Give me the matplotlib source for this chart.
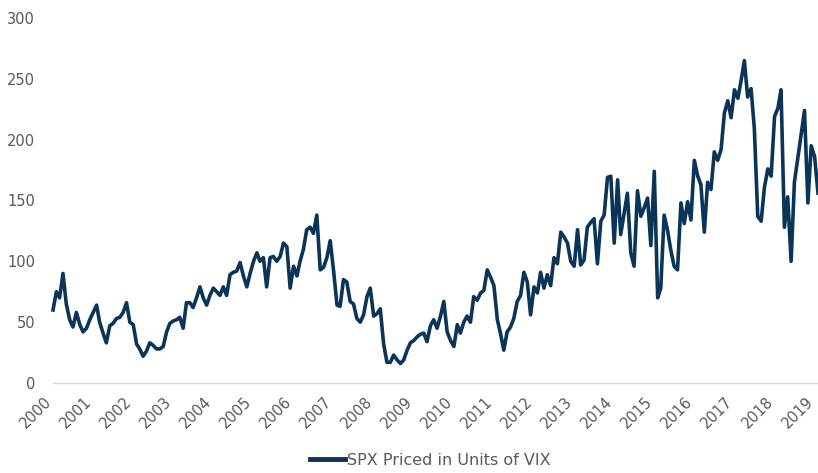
import pandas as pd
import matplotlib.pyplot as plt
from matplotlib.transforms import ScaledTranslation

# monthly SPX / VIX ratio (Jan 2000 .. Feb 2019)
start = '2000-01-01'
spx_vix = [
    60, 75, 70, 90, 65, 52, 46, 58, 48, 42, 45, 52,        # 2000
    58, 64, 50, 41, 33, 47, 49, 53, 54, 58, 66, 50,        # 2001
    48, 32, 28, 22, 26, 33, 31, 28, 28, 30, 42, 49,        # 2002
    51, 52, 54, 45, 66, 66, 62, 70, 79, 70, 64, 72,        # 2003
    78, 75, 72, 79, 72, 89, 91, 92, 99, 88, 79, 90,        # 2004
    100, 107, 100, 103, 79, 103, 104, 100, 104, 115, 112, 78,  # 2005
    96, 88, 100, 110, 126, 128, 123, 138, 93, 95, 103, 117,    # 2006
    92, 64, 63, 85, 83, 67, 65, 53, 50, 56, 71, 78,        # 2007
    55, 57, 61, 32, 17, 17, 23, 19, 16, 19, 27, 33,        # 2008
    35, 38, 40, 41, 34, 47, 52, 45, 55, 67, 42, 35,        # 2009
    30, 48, 41, 50, 55, 50, 71, 68, 74, 76, 93, 87,        # 2010
    80, 52, 41, 27, 42, 46, 53, 67, 72, 91, 83, 56,        # 2011
    79, 74, 91, 78, 89, 80, 103, 98, 124, 120, 115, 100,   # 2012
    96, 126, 97, 101, 128, 132, 135, 98, 133, 138, 169, 170,   # 2013
    115, 167, 122, 139, 156, 107, 96, 158, 137, 144, 152, 113,  # 2014
    174, 70, 78, 138, 126, 109, 96, 93, 148, 131, 149, 134,    # 2015
    183, 170, 163, 124, 165, 159, 190, 183, 192, 222, 232, 218,  # 2016
    241, 234, 248, 265, 235, 242, 209, 137, 133, 161, 176, 170,  # 2017
    219, 226, 241, 128, 153, 100, 165, 185, 205, 224, 148, 195,  # 2018
    186, 156,                                              # 2019
]
years = list(range(2000, 2020))
y_ticks = [0, 50, 100, 150, 200, 250, 300]
series_name = 'SPX Priced in Units of VIX'

dates = pd.date_range(start, periods=len(spx_vix), freq='MS')
df = pd.DataFrame({'date': dates, 'ratio': spx_vix})

navy = '#0b3558'
grey_txt = '#595959'

fig = plt.figure(figsize=(8.18, 4.73), dpi=100)
ax = fig.add_axes([53 / 818, 1 - 383 / 473, 1 - 53 / 818, (383 - 18) / 473])

ax.plot(df['date'], df['ratio'], color=navy, lw=2.6, solid_joinstyle='round',
        label=series_name, clip_on=False)

ax.set_xlim(df['date'].iloc[0], df['date'].iloc[-1])
ax.set_ylim(0, 300)
ax.set_yticks(y_ticks)
ax.set_xticks([pd.Timestamp(f'{y}-01-01') for y in years])
ax.set_xticklabels([str(y) for y in years], rotation=45, ha='right',
                   va='center', rotation_mode='anchor')

for s in ['top', 'right', 'left']:
    ax.spines[s].set_visible(False)
ax.spines['bottom'].set_color('#d9d9d9')
ax.spines['bottom'].set_linewidth(1.0)
ax.tick_params(axis='both', length=0, labelsize=10.5, colors=grey_txt)
ax.tick_params(axis='y', pad=13)
ax.tick_params(axis='x', pad=12)

# nudge the rotated year labels left so 2019 stays inside
# (after tick_params, which resets the label transforms)
shift = ScaledTranslation(-4 / 100, 0, fig.dpi_scale_trans)
for t in ax.xaxis.get_major_ticks():
    t.label1.set_transform(t.label1.get_transform() + shift)

leg = fig.legend(loc='lower center', bbox_to_anchor=(0.526, -0.02), frameon=False,
                 fontsize=11.5, handlelength=2.2, handletextpad=0.15,
                 labelcolor=grey_txt)
for h in leg.legend_handles:
    h.set_linewidth(3.5)

plt.savefig('out.png', dpi=100)
plt.close()
